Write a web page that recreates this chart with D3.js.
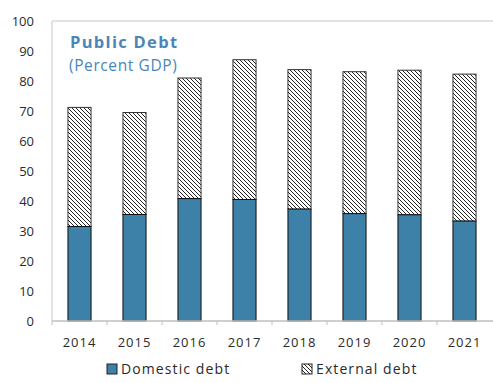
<!DOCTYPE html>
<html>
<head>
<meta charset="utf-8">
<script src="https://cdn.jsdelivr.net/npm/d3@7"></script>
<style>
  html, body { margin: 0; padding: 0; background: #fff; }
  svg { display: block; }
  text { font-family: "Open Sans", "DejaVu Sans", sans-serif; }
</style>
</head>
<body>
<svg id="chart" width="493" height="383"></svg>
<script>
// Public debt, percent of GDP
const years = ["2014", "2015", "2016", "2017", "2018", "2019", "2020", "2021"];
const domesticDebt = [31.5, 35.5, 40.8, 40.5, 37.3, 35.8, 35.4, 33.3];
const totalDebt = [71.2, 69.5, 81.0, 87.1, 83.8, 83.1, 83.6, 82.3];
const externalDebt = totalDebt.map((t, i) => +(t - domesticDebt[i]).toFixed(1));
const yTicks = [0, 10, 20, 30, 40, 50, 60, 70, 80, 90, 100];
const seriesNames = ["Domestic debt", "External debt"];

const W = 493, H = 383;
const margin = { top: 21, right: 1, bottom: 62, left: 52 };
const svg = d3.select("#chart");

const x = d3.scaleBand().domain(years)
  .range([margin.left, W - margin.right])
  .paddingInner(0.58).paddingOuter(0.29);
const y = d3.scaleLinear().domain([0, 100]).range([H - margin.bottom, margin.top]);

// hatch pattern for external debt
const defs = svg.append("defs");
const pat = defs.append("pattern").attr("id", "hatch")
  .attr("patternUnits", "userSpaceOnUse").attr("width", 4).attr("height", 4);
pat.append("rect").attr("width", 4).attr("height", 4).attr("fill", "#fff");
pat.append("path").attr("d", "M-1,-1 L5,5 M-1,3 L1,5 M3,-1 L5,1")
  .attr("stroke", "#222").attr("stroke-width", 1);

// frame: light top and left lines
svg.append("line").attr("x1", margin.left).attr("x2", W).attr("y1", y(100)).attr("y2", y(100))
  .attr("stroke", "#d9d9d9").attr("stroke-width", 1.5);
svg.append("line").attr("x1", margin.left).attr("x2", margin.left).attr("y1", y(100)).attr("y2", y(0))
  .attr("stroke", "#d9d9d9").attr("stroke-width", 1.5);

// y axis labels
const yAxis = d3.axisLeft(y).tickValues(yTicks).tickSize(0).tickPadding(18);
const gy = svg.append("g").attr("transform", `translate(${margin.left},0)`).call(yAxis);
gy.select(".domain").remove();
gy.selectAll("text").attr("font-size", 13).attr("fill", "#2a2a2a")
  .style("font-family", '"Open Sans", "DejaVu Sans", sans-serif');

// bars
const bars = svg.append("g");
years.forEach((yr, i) => {
  const x0 = x(yr), bw = x.bandwidth();
  bars.append("rect").attr("x", x0).attr("width", bw)
    .attr("y", y(totalDebt[i])).attr("height", y(domesticDebt[i]) - y(totalDebt[i]))
    .attr("fill", "url(#hatch)").attr("stroke", "#333").attr("stroke-width", 1);
  bars.append("rect").attr("x", x0).attr("width", bw)
    .attr("y", y(domesticDebt[i])).attr("height", y(0) - y(domesticDebt[i]))
    .attr("fill", "#3d80a8").attr("stroke", "#111").attr("stroke-width", 1);
});

// x axis with ticks between categories
const step = x.step();
const gx = svg.append("g").attr("transform", `translate(0,${y(0)})`);
gx.append("line").attr("x1", margin.left).attr("x2", W).attr("y1", 0).attr("y2", 0)
  .attr("stroke", "#bfbfbf").attr("stroke-width", 1.5);
d3.range(years.length).forEach(k => {
  const xx = margin.left + k * step;
  gx.append("line").attr("x1", xx).attr("x2", xx).attr("y1", 0).attr("y2", 4)
    .attr("stroke", "#bfbfbf").attr("stroke-width", 1);
});
gx.selectAll("text.yr").data(years).enter().append("text").attr("class", "yr")
  .attr("x", d => x(d) + x.bandwidth() / 2).attr("y", 26)
  .attr("text-anchor", "middle").attr("font-size", 13).attr("fill", "#2a2a2a")
  .attr("letter-spacing", 1).text(d => d);

// title
svg.append("text").attr("x", 70).attr("y", 48).attr("font-size", 16.5).attr("font-weight", "bold")
  .attr("fill", "#4a86b8").attr("letter-spacing", 1.3).text("Public Debt");
svg.append("text").attr("x", 69).attr("y", 71).attr("font-size", 15.5)
  .attr("fill", "#4a86b8").attr("letter-spacing", 0.6).text("(Percent GDP)");

// legend
const legend = [
  { name: seriesNames[0], x: 107, fill: "#3d80a8" },
  { name: seriesNames[1], x: 302, fill: "url(#hatch)" }
];
legend.forEach(l => {
  svg.append("rect").attr("x", l.x).attr("y", 364).attr("width", 10).attr("height", 10)
    .attr("fill", l.fill).attr("stroke", "#222").attr("stroke-width", 1);
  svg.append("text").attr("x", l.x + 14).attr("y", 374).attr("font-size", 14)
    .attr("fill", "#2a2a2a").attr("letter-spacing", 1.1).text(l.name);
});
</script>
</body>
</html>
